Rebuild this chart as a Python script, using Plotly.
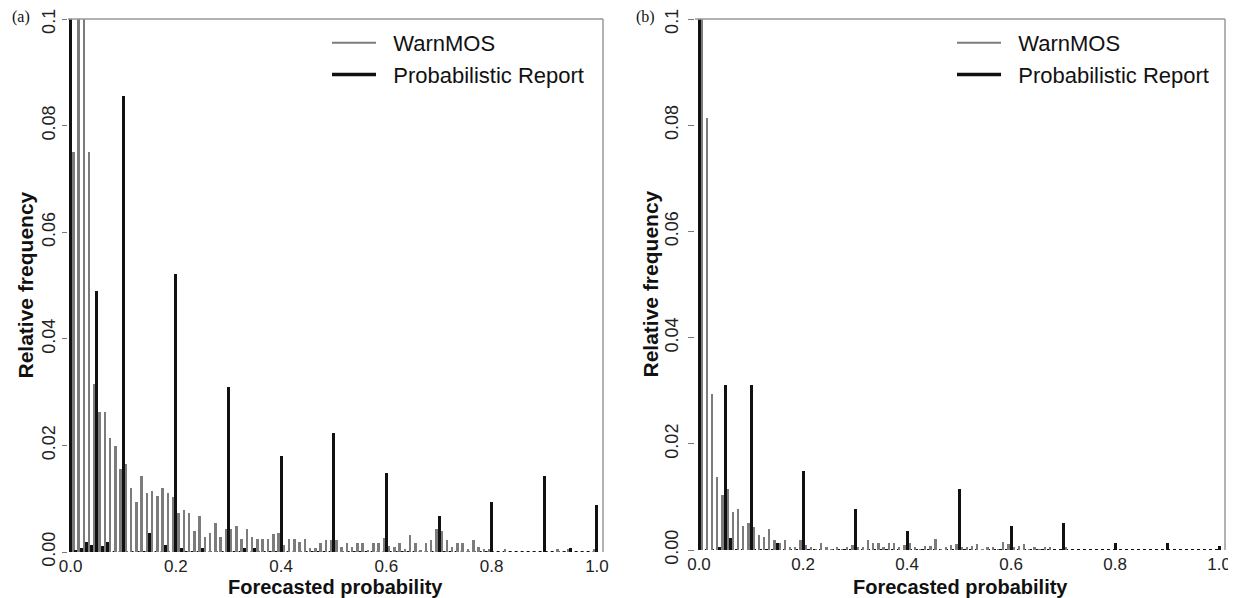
import plotly.graph_objects as go

# ---------------- data ----------------
grid = [round(i / 100, 2) for i in range(101)]

# Panel (a)
warnmos_a = [
    0.075, 0.16, 0.14, 0.075, 0.0316, 0.0262, 0.0262, 0.0213, 0.0198, 0.0155,   # 0.00-0.09
    0.0166, 0.0121, 0.0094, 0.0143, 0.0110, 0.0115, 0.0105, 0.0121, 0.0111, 0.0104,  # 0.10-0.19
    0.0073, 0.0078, 0.0073, 0.0040, 0.0068, 0.0029, 0.0035, 0.0055, 0.0029, 0.0044,  # 0.20-0.29
    0.0043, 0.0049, 0.0024, 0.0044, 0.0029, 0.0024, 0.0024, 0.0024, 0.0034, 0.0035,  # 0.30-0.39
    0.0013, 0.0024, 0.0024, 0.0019, 0.0024, 0.0008, 0.0008, 0.0016, 0.0022, 0.0022,  # 0.40-0.49
    0.0022, 0.0010, 0.0017, 0.0010, 0.0017, 0.0017, 0.0003, 0.0017, 0.0017, 0.0027,  # 0.50-0.59
    0.0012, 0.0010, 0.0017, 0.0006, 0.0032, 0.0017, 0.0003, 0.0017, 0.0023, 0.0044,  # 0.60-0.69
    0.0039, 0.0023, 0.0010, 0.0017, 0.0017, 0.0006, 0.0023, 0.0010, 0.0006, 0.0006,  # 0.70-0.79
    0.0, 0.0, 0.0006, 0.0, 0.0, 0.0, 0.0, 0.0, 0.0, 0.0,                               # 0.80-0.89
    0.0, 0.0, 0.0006, 0.0, 0.0006, 0.0, 0.0, 0.0, 0.0, 0.0006,                         # 0.90-0.99
    0.0,                                                                                # 1.00
]
report_x_a = [0.00, 0.01, 0.02, 0.03, 0.04, 0.05, 0.06, 0.07, 0.10, 0.15, 0.18, 0.20,
              0.21, 0.25, 0.30, 0.33, 0.35, 0.40, 0.50, 0.60, 0.70, 0.80, 0.90, 0.95, 1.00]
report_a = [0.20, 0.0004, 0.0007, 0.0018, 0.0013, 0.049, 0.0012, 0.0018, 0.0855, 0.0035,
            0.0013, 0.0521, 0.0007, 0.0007, 0.031, 0.0008, 0.0008, 0.0181, 0.0224, 0.0148,
            0.0068, 0.0094, 0.0143, 0.0007, 0.0088]

# Panel (b)
warnmos_b = [
    0.15, 0.0813, 0.0294, 0.0137, 0.0104, 0.0114, 0.0071, 0.0078, 0.0045, 0.0050,   # 0.00-0.09
    0.0044, 0.0028, 0.0024, 0.0039, 0.0018, 0.0013, 0.0018, 0.0006, 0.0006, 0.0018,  # 0.10-0.19
    0.0009, 0.0005, 0.0001, 0.0013, 0.0006, 0.0001, 0.0006, 0.0001, 0.0006, 0.0009,  # 0.20-0.29
    0.0006, 0.0006, 0.0018, 0.0013, 0.0013, 0.0006, 0.0013, 0.0013, 0.0006, 0.0009,  # 0.30-0.39
    0.0013, 0.0006, 0.0001, 0.0007, 0.0007, 0.0021, 0.0001, 0.0006, 0.0009, 0.0012,  # 0.40-0.49
    0.0006, 0.0006, 0.0007, 0.0012, 0.0001, 0.0006, 0.0006, 0.0001, 0.0015, 0.0012,  # 0.50-0.59
    0.0006, 0.0007, 0.0011, 0.0001, 0.0006, 0.0001, 0.0006, 0.0006, 0.0, 0.0,        # 0.60-0.69
    0.0006, 0.0, 0.0, 0.0, 0.0, 0.0, 0.0, 0.0, 0.0, 0.0,                             # 0.70-0.79
    0.0, 0.0, 0.0, 0.0, 0.0, 0.0, 0.0, 0.0, 0.0, 0.0,                                # 0.80-0.89
    0.0, 0.0, 0.0, 0.0, 0.0, 0.0, 0.0, 0.0, 0.0, 0.0,                                # 0.90-0.99
    0.0,                                                                              # 1.00
]
report_x_b = [0.00, 0.04, 0.05, 0.06, 0.10, 0.15, 0.20, 0.30, 0.40, 0.50, 0.60, 0.70,
              0.80, 0.90, 1.00]
report_b = [0.20, 0.0006, 0.031, 0.0023, 0.031, 0.0013, 0.0148, 0.0077, 0.0035, 0.0115,
            0.0045, 0.0050, 0.0013, 0.0013, 0.0008]

x_ticks = [0.0, 0.2, 0.4, 0.6, 0.8, 1.0]
x_ticktext = ["0.0", "0.2", "0.4", "0.6", "0.8", "1.0"]
y_ticks = [0.0, 0.02, 0.04, 0.06, 0.08, 0.10]
y_ticktext = ["0.00", "0.02", "0.04", "0.06", "0.08", "0.10"]

GRAY = "#7c7c7c"
BLACK = "#111111"
FONT = "Arial, Liberation Sans, Helvetica, sans-serif"
SERIF = "Liberation Serif, Times New Roman, serif"

W, H = 1236, 598
OFF = 8  # the page body margin offsets the figure by 8 px

fig = go.Figure()

panels = [
    ("x", "y", "legend", warnmos_a, report_x_a, report_a),
    ("x2", "y2", "legend2", warnmos_b, report_x_b, report_b),
]
for xa, ya, lg, wm, rx, ry in panels:
    fig.add_trace(go.Bar(x=grid, y=wm, xaxis=xa, yaxis=ya, width=0.0048, offset=0.0026,
                         marker=dict(color=GRAY, line=dict(width=0)),
                         showlegend=False, hoverinfo="x+y"))
    fig.add_trace(go.Bar(x=rx, y=ry, xaxis=xa, yaxis=ya, width=0.0058, offset=-0.0029,
                         marker=dict(color=BLACK, line=dict(width=0)),
                         showlegend=False, hoverinfo="x+y"))
    # legend entries (line samples)
    fig.add_trace(go.Scatter(x=[None], y=[None], xaxis=xa, yaxis=ya, mode="lines",
                             line=dict(color=GRAY, width=2), name="\u00a0\u00a0WarnMOS",
                             legend=lg))
    fig.add_trace(go.Scatter(x=[None], y=[None], xaxis=xa, yaxis=ya, mode="lines",
                             line=dict(color=BLACK, width=3.5),
                             name="\u00a0\u00a0Probabilistic Report",
                             legend=lg))

def px_x(p):
    return (p - OFF) / W

def px_y(p):
    return 1 - (p - OFF) / H

xaxis_common = dict(
    tickvals=x_ticks, ticktext=x_ticktext, ticks="", showgrid=False, zeroline=False,
    showline=False, tickfont=dict(family=FONT, size=17, color="#222"),
    ticklabelstandoff=2, fixedrange=True, automargin=False, ticklabeloverflow="allow",
)
yaxis_common = dict(
    tickvals=y_ticks, ticktext=y_ticktext, ticks="outside", tickwidth=1,
    tickcolor="#777", showgrid=False, zeroline=False, showline=False,
    tickangle=-90, tickfont=dict(family=FONT, size=18, color="#222"),
    range=[0, 0.10001], fixedrange=True, automargin=False,
    ticklabeloverflow="allow",
)

fig.update_layout(
    width=W, height=H,
    margin=dict(l=0, r=0, t=0, b=0, autoexpand=False),
    paper_bgcolor="white", plot_bgcolor="white",
    barmode="overlay", bargap=0,
    font=dict(family=FONT, color="#111"),
    xaxis=dict(domain=[px_x(68), px_x(603)], range=[-0.005, 1.0115], anchor="y", **xaxis_common),
    yaxis=dict(domain=[px_y(552), px_y(19)], anchor="x", ticklen=5, ticklabelstandoff=0,
               **yaxis_common),
    xaxis2=dict(domain=[px_x(695), px_x(1225)], range=[-0.0077, 1.0115], anchor="y2", **xaxis_common),
    yaxis2=dict(domain=[px_y(550), px_y(19)], anchor="x2", ticklen=6, ticklabelstandoff=3,
                **yaxis_common),
    legend=dict(x=px_x(327), y=px_y(22), xanchor="left", yanchor="top",
                bgcolor="rgba(0,0,0,0)", borderwidth=0, itemwidth=44,
                traceorder="normal",
                font=dict(family=FONT, size=22, color="#111")),
    legend2=dict(x=px_x(952), y=px_y(22), xanchor="left", yanchor="top",
                 bgcolor="rgba(0,0,0,0)", borderwidth=0, itemwidth=44,
                 traceorder="normal",
                 font=dict(family=FONT, size=22, color="#111")),
    showlegend=True,
)

# frame (top + right) and dotted zero baselines
for xr, yr in (("x", "y"), ("x2", "y2")):
    fig.add_shape(type="line", xref=f"{xr} domain", yref=f"{yr} domain", x0=0, x1=1, y0=1, y1=1,
                  line=dict(color="#999", width=1.5))
    fig.add_shape(type="line", xref=f"{xr} domain", yref=f"{yr} domain", x0=1, x1=1, y0=0, y1=1,
                  line=dict(color="#999", width=1.5))
    fig.add_shape(type="line", xref=xr, yref=yr, x0=0, x1=1.0, y0=0, y1=0,
                  line=dict(color=BLACK, width=2, dash="dot"), layer="below")

# axis titles and panel labels
ann = []
for cx_plot, cy_plot, cx_title in ((335.5, 285.5, 25), (960, 284.5, 650)):
    ann.append(dict(text="<b>Relative frequency</b>", x=px_x(cx_title), y=px_y(cy_plot),
                    xref="paper", yref="paper", showarrow=False, textangle=-90,
                    xanchor="center", yanchor="middle",
                    font=dict(family=FONT, size=21, color="#111")))
    ann.append(dict(text="<b>Forecasted probability</b>", x=px_x(cx_plot), y=px_y(587),
                    xref="paper", yref="paper", showarrow=False,
                    xanchor="center", yanchor="middle",
                    font=dict(family=FONT, size=20, color="#111")))
ann.append(dict(text="(a)", x=px_x(10), y=px_y(17), xref="paper", yref="paper",
                showarrow=False, xanchor="left", yanchor="middle",
                font=dict(family=SERIF, size=16, color="#111")))
ann.append(dict(text="(b)", x=px_x(634), y=px_y(17), xref="paper", yref="paper",
                showarrow=False, xanchor="left", yanchor="middle",
                font=dict(family=SERIF, size=16, color="#111")))
fig.update_layout(annotations=ann)

fig.write_html("out.html")
